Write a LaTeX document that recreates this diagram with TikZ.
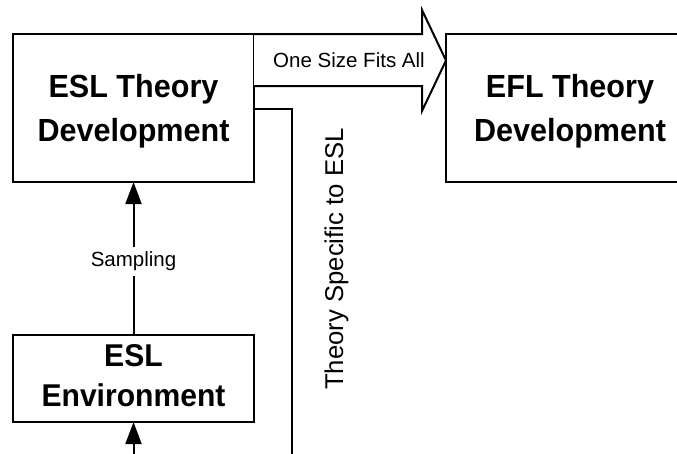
\documentclass[tikz,border=0pt]{standalone}
\usepackage{fontspec}
\setmainfont{Liberation Sans}
\newfontfamily\titlefont[FakeStretch=0.955]{Liberation Sans}
\usetikzlibrary{arrows.meta}
\begin{document}
\begin{tikzpicture}[x=1pt, y=-1pt, line width=2pt,
  box/.style={draw, line width=2pt, outer sep=0pt, inner sep=0pt, align=center},
  ttl/.style={font=\titlefont\bfseries\fontsize{32}{43.5}\selectfont, text depth=0pt},
  env/.style={font=\titlefont\bfseries\fontsize{31.5}{40}\selectfont, text depth=6pt},
  lbl/.style={font=\fontsize{20.5}{24}\selectfont},
  vlbl/.style={font=\fontsize{25.7}{30}\selectfont},
  tip/.style={-{Triangle[length=22pt,width=16pt]}}]
\useasboundingbox (0,0) rectangle (677,453);
\clip (0,0) rectangle (677,453);

% boxes
\node[box, ttl, minimum width=241pt, minimum height=148pt] (eslT) at (133.5,108) {ESL Theory\\Development};
\node[box, ttl, minimum width=248pt, minimum height=148pt] (eflT) at (570,108) {EFL Theory\\Development};
\node[box, env, minimum width=241pt, minimum height=87pt] (eslE) at (133.5,378.5) {ESL\\Environment};

% helper coordinates
\coordinate (sb) at (0,86);
\coordinate (hs) at (422,34);
\coordinate (ht) at (422,10);
\coordinate (hp) at (446,60.5);
\coordinate (hb) at (422,111);
\coordinate (he) at (422,86);
\coordinate (ly) at (0,109);
\coordinate (lend) at (292,460);
\coordinate (bstart) at (133.5,460);

% broad arrow towards the EFL box
\draw[fill=white, line join=miter] (eslT.north east) -- (hs) -- (ht) -- (hp) -- (hb) -- (he) -- (eslT.east |- sb);
\node[lbl, anchor=base] (osfa) at (349,67.5) {One Size Fits All};

% branch running down the side
\draw[line join=miter] (eslT.east |- ly) -| (lend);
\node[vlbl, rotate=90, anchor=base] (spec) at (343,259) {Theory Specific to ESL};

% vertical arrows
\draw[tip] (eslE.north) -- node[lbl, pos=0.48, fill=white, inner xsep=2pt, inner ysep=5pt] (samp) {Sampling} (eslT.south);
\draw[tip] (bstart) -- (eslE.south);
\end{tikzpicture}
\end{document}
